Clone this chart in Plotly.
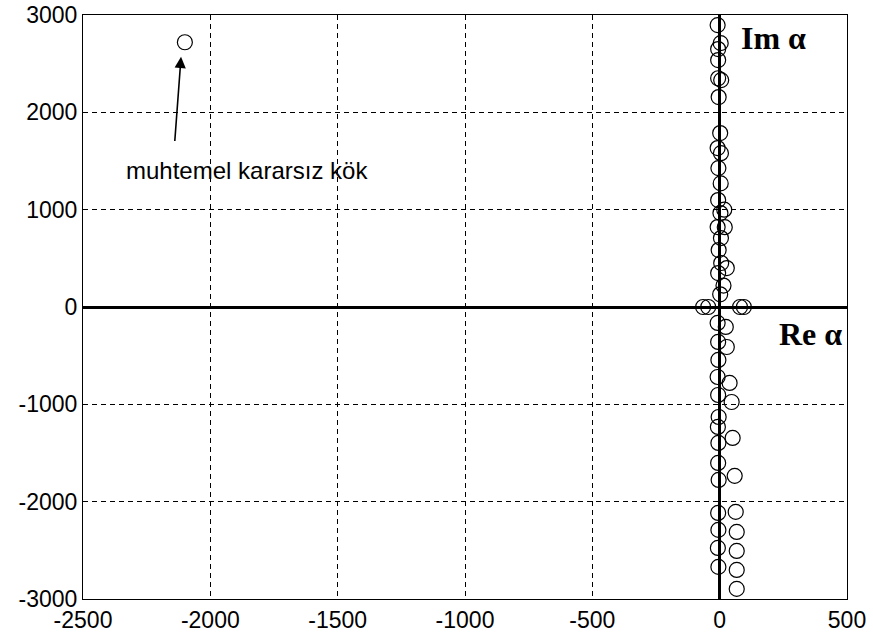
import plotly.graph_objects as go

# Roots (Re, Im)
far_re = [-2100]
far_im = [2720]

line_re = [-8, 4, -6, 6, -4, 2, -8, 5, -5, 4, -6, 3, -8, 5, -4, 6, -6, 2,
           -8, -6, -5, -8, -6, -4, -7, -5, -6, -4, -6, -5, -7, -5, -6, -6]
line_im = [2896, 2711, 2537, 2331, 2157, 1787, 1633, 1580, 1427, 1270, 1099, 965, 821, 708, 585, 452, 349, 130,
           -164, -359, -544, -719, -904, -1130, -1232, -1397, -1602, -1777, -2116, -2290, -2475, -2670, 2650, 2350]

side_re = [18, 28, 15, 20, 24, 28, 39, 47, 51, 59, 63, 67, 67, 67, 67]
side_im = [1000, 400, 220, 820, -205, -411, -780, -976, -1345, -1735, -2105, -2311, -2506, -2701, -2896]

axis_re = [-65, -45, 80, 95]
axis_im = [0, 0, 0, 0]

x_ticks = [-2500, -2000, -1500, -1000, -500, 0, 500]
y_ticks = [-3000, -2000, -1000, 0, 1000, 2000, 3000]

fig = go.Figure()
marker = dict(symbol="circle-open", size=15, color="black", line=dict(width=1.2, color="black"))
for xs, ys in [(far_re, far_im), (line_re, line_im), (side_re, side_im), (axis_re, axis_im)]:
    fig.add_trace(go.Scatter(x=xs, y=ys, mode="markers", marker=marker, showlegend=False, hoverinfo="skip"))

fig.add_annotation(x=-2115, y=2570, ax=-2140, ay=1690, xref="x", yref="y", axref="x", ayref="y",
                   showarrow=True, arrowhead=2, arrowsize=1.4, arrowwidth=1.6, arrowcolor="black", text="")
fig.add_annotation(x=-1856, y=1400, text="muhtemel kararsız kök", showarrow=False,
                   font=dict(family="Liberation Sans, Arial", size=24, color="black"))
fig.add_annotation(x=213, y=2760, text="<b>Im α</b>", showarrow=False,
                   font=dict(family="Liberation Serif, Times New Roman", size=32, color="black"))
fig.add_annotation(x=355, y=-280, text="<b>Re α</b>", showarrow=False,
                   font=dict(family="Liberation Serif, Times New Roman", size=32, color="black"))

axis_common = dict(showgrid=True, gridcolor="black", gridwidth=1, griddash="5px,4px",
                   showline=True, linecolor="black", linewidth=1, mirror=True,
                   zeroline=True, zerolinecolor="black", zerolinewidth=3,
                   tickfont=dict(family="Liberation Sans, Arial", size=23, color="black"),
                   ticks="", automargin=False)
fig.update_xaxes(range=[-2500, 500], tickvals=x_ticks, ticktext=[str(v) for v in x_ticks], **axis_common)
fig.update_yaxes(range=[-3000, 3000], tickvals=y_ticks, ticktext=[str(v) for v in y_ticks], **axis_common)

fig.update_layout(width=873, height=641, margin=dict(l=83, r=26, t=15, b=42),
                  paper_bgcolor="white", plot_bgcolor="white")
fig.write_html("out.html")
